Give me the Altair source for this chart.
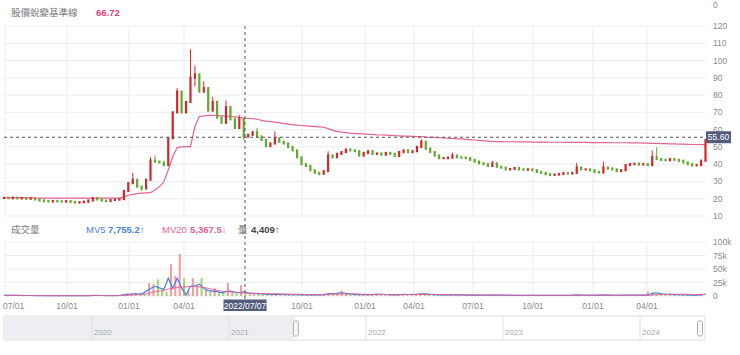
import altair as alt
import pandas as pd

FONT = "Liberation Sans, Noto Sans CJK TC, sans-serif"

# ---------------- data (trading-week index 0..158) ----------------
first_open = 20.4
closes = [
    20.5, 20.3, 20.6, 20.2, 20.4, 20.0, 20.1, 19.6, 19.0, 18.6,
    18.4, 18.7, 18.5, 18.3, 18.6, 18.1, 17.8, 18.0, 18.3, 19.0,
    20.4, 19.6, 18.9, 18.6, 19.3, 19.5, 19.8, 24.5, 29.0, 31.0,
    27.0, 26.0, 31.0, 42.0, 41.5, 41.0, 39.5, 55.0, 70.0, 82.0,
    70.0, 76.0, 90.0, 92.0, 82.0, 84.0, 71.0, 76.0, 67.0, 64.0,
    73.0, 66.0, 61.0, 66.0, 56.0, 57.0, 58.5, 56.0, 54.0, 50.5,
    52.0, 55.0, 53.0, 52.0, 50.0, 48.0, 44.0, 40.0, 39.0, 36.5,
    35.0, 34.5, 36.0, 45.0, 44.0, 46.0, 47.0, 48.5, 48.0, 47.5,
    45.0, 46.5, 47.5, 46.0, 46.2, 45.5, 46.5, 46.0, 44.8, 47.0,
    48.0, 47.0, 47.5, 50.0, 53.0, 49.0, 47.0, 45.0, 43.5, 43.5,
    43.8, 45.0, 44.0, 43.8, 43.5, 42.5, 41.5, 40.5, 40.0, 39.0,
    40.5, 38.5, 38.0, 37.0, 37.2, 37.8, 37.0, 36.8, 37.0, 36.5,
    35.5, 35.0, 34.2, 33.8, 34.0, 34.3, 34.8, 34.6, 35.0, 38.0,
    37.0, 37.0, 36.5, 35.5, 35.2, 38.0, 37.5, 37.0, 36.0, 36.5,
    39.5, 40.0, 40.3, 39.8, 40.0, 39.5, 44.0, 43.0, 42.5, 42.3,
    43.0, 42.5, 42.0, 41.0, 40.0, 39.3, 39.5, 42.0, 54.0,
]
hi_idx = [29, 33, 34, 39, 42, 43, 45, 47, 50, 53, 57, 61, 73, 94, 101, 110, 129, 135, 146, 147]
hi_val = [35.0, 44.0, 45.0, 84.0, 106.5, 97.0, 88.0, 79.0, 77.0, 68.5, 61.0, 59.0, 47.5, 54.5,
          46.7, 42.0, 40.8, 41.4, 48.0, 49.6]
lo_idx = [31, 43, 54, 71, 123]
lo_val = [24.5, 85.0, 54.0, 33.5, 33.0]

baseline = [
    20.6, 20.6, 20.6, 20.6, 20.6, 20.6, 20.6, 20.4, 20.4, 20.4,
    20.4, 20.4, 20.3, 20.3, 20.3, 20.3, 20.3, 20.3, 20.3, 20.4,
    20.4, 20.4, 20.4, 20.4, 20.4, 20.4, 20.4,
    21.1, 22.0, 22.5, 23.0, 23.2, 23.4, 23.5, 25.0, 27.0, 29.8,
    36.8, 44.3, 49.6, 50.0, 50.2, 50.2, 61.8, 67.6, 68.0, 68.2,
    68.2, 68.1, 68.0, 67.9, 67.7, 67.4, 67.1, 66.72, 66.5,
    66.3, 66.0, 65.4, 64.9, 64.6, 64.3, 63.9, 63.6, 63.2, 62.9,
    62.6, 62.4, 62.2, 62.0, 61.8, 61.6, 61.4, 60.6, 59.6, 59.0,
    58.6, 58.3, 58.0, 57.8, 57.6, 57.5, 57.3, 57.2, 57.0, 56.9,
    56.8, 56.7, 56.5, 56.4, 56.3, 56.2, 56.1, 56.0, 55.9, 55.7,
    55.6, 55.5, 55.3, 55.2, 55.0, 54.9, 54.7, 54.6, 54.4, 54.2,
    54.0, 53.8, 53.6, 53.4, 53.2, 53.1, 53.1, 53.0, 53.0, 53.0,
    52.9, 52.9, 52.9, 52.8, 52.8, 52.8, 52.8, 52.7, 52.7, 52.7,
    52.7, 52.6, 52.6, 52.6, 52.6, 52.6, 52.5, 52.5, 52.5, 52.5,
    52.5, 52.4, 52.4, 52.4, 52.4, 52.3, 52.3, 52.3, 52.2, 52.2,
    52.1, 52.0, 51.9, 51.9, 51.8, 51.7, 51.6, 51.6, 51.5, 51.4,
    51.4, 51.3, 51.3,
]

vol_k = [
    1.2, 1.0, 0.9, 1.1, 0.8, 0.9, 1.0, 0.7, 0.8, 0.9,
    0.6, 0.7, 0.8, 0.6, 0.7, 0.9, 0.8, 0.6, 0.7, 1.0,
    1.5, 0.9, 0.8, 0.7, 0.9, 0.8, 1.0,
    5, 3, 6, 4, 3, 24, 22, 31, 12, 8,
    59, 37, 78, 33, 10, 33, 20, 33, 12, 9,
    15, 6, 8, 24, 6, 5, 20, 8,
    4, 3.5, 5, 4, 3, 2.5, 4, 3, 2.5, 2.2,
    2, 2.5, 2.2, 2, 2.5, 2, 2.2, 3, 6, 4,
    5, 10, 4, 3, 2.5, 2.2, 2.5, 3, 2, 4,
    3, 2.5, 2, 2.2, 3, 3.5, 2.5, 3, 4, 5,
    3.5, 2.5, 2, 2.2, 1.8, 2, 2.5, 2, 1.8, 1.5,
    1.6, 1.8, 1.5, 1.4, 1.5, 2.5, 1.5, 1.4, 1.3, 1.2,
    1.4, 1.2, 1.1, 1.3, 1.2, 1.1, 1.0, 1.2, 1.1, 1.0,
    1.2, 1.1, 1.0, 1.2, 3, 1.8, 1.5, 1.3, 1.2, 1.3,
    2.8, 1.8, 1.4, 1.2, 1.5, 2.2, 1.8, 1.6, 1.5, 1.4,
    1.6, 8, 6, 3.5, 3, 2.8, 2.5, 2.2, 2, 1.8,
    1.6, 1.8, 2.5, 4.4,
]
mv5_k = [
    1.0, 1.0, 1.0, 1.0, 0.9, 0.9, 0.9, 0.8, 0.8, 0.8,
    0.8, 0.7, 0.7, 0.7, 0.7, 0.8, 0.8, 0.7, 0.7, 0.8,
    1.0, 1.0, 0.9, 0.8, 0.8, 0.8, 0.9,
    2.5, 3, 4, 4, 3.5, 9, 14, 18, 15, 12,
    33, 14, 33, 15, 2, 18, 19, 22, 14, 10,
    9, 8, 6, 8, 9, 7, 6, 7.8,
    6, 5, 4.5, 4, 3.5, 3, 3.2, 3, 2.8, 2.5,
    2.3, 2.3, 2.2, 2.1, 2.2, 2.1, 2.1, 2.5, 4, 4.5,
    5, 6, 5, 3.5, 3, 2.6, 2.5, 2.7, 2.5, 3,
    3, 2.8, 2.4, 2.2, 2.6, 3, 2.8, 2.8, 3.2, 4,
    3.8, 3, 2.5, 2.2, 2, 2, 2.2, 2.1, 1.9, 1.7,
    1.6, 1.7, 1.6, 1.5, 1.5, 1.8, 1.6, 1.5, 1.4, 1.3,
    1.3, 1.3, 1.2, 1.2, 1.2, 1.1, 1.1, 1.1, 1.1, 1.1,
    1.1, 1.0, 1.1, 1.3, 2, 1.8, 1.5, 1.4, 1.3, 1.3,
    2, 1.8, 1.5, 1.4, 1.4, 1.8, 1.8, 1.6, 1.5, 1.5,
    1.5, 5, 6, 4, 3.2, 2.9, 2.6, 2.3, 2.1, 1.9,
    1.8, 1.8, 2.2, 3.5,
]
mv20_k = [
    1.0, 1.0, 1.0, 1.0, 1.0, 0.9, 0.9, 0.9, 0.9, 0.9,
    0.8, 0.8, 0.8, 0.8, 0.8, 0.8, 0.8, 0.8, 0.8, 0.8,
    0.9, 0.9, 0.9, 0.9, 0.9, 0.9, 0.9,
    1.3, 1.6, 2, 2.3, 2.6, 4, 6, 8, 9, 10,
    13, 14, 16, 17, 17, 18, 18, 17, 16, 14,
    12, 10.5, 9, 8.5, 7.5, 6.8, 6, 5.4,
    5.2, 5, 4.8, 4.6, 4.4, 4.2, 4, 3.8, 3.6, 3.4,
    3.2, 3, 2.9, 2.8, 2.7, 2.6, 2.5, 2.6, 3, 3.3,
    3.6, 4, 4.1, 4, 3.8, 3.5, 3.2, 3, 2.9, 2.9,
    2.8, 2.8, 2.7, 2.7, 2.7, 2.8, 2.8, 2.9, 3, 3.1,
    3.1, 3, 2.9, 2.8, 2.6, 2.5, 2.4, 2.3, 2.2, 2.1,
    2, 1.9, 1.8, 1.8, 1.7, 1.7, 1.6, 1.6, 1.5, 1.5,
    1.4, 1.4, 1.3, 1.3, 1.3, 1.2, 1.2, 1.2, 1.2, 1.2,
    1.2, 1.2, 1.3, 1.3, 1.4, 1.4, 1.5, 1.5, 1.5, 1.5,
    1.6, 1.6, 1.6, 1.6, 1.6, 1.6, 1.6, 1.6, 1.6, 1.6,
    1.6, 2.2, 2.6, 2.8, 2.9, 3, 3, 3, 3, 2.9,
    2.8, 2.7, 2.7, 2.8,
]

price_ticks = [10, 20, 30, 40, 50, 60, 70, 80, 90, 100, 110, 120]
vol_ticks = [0, 25, 50, 75, 100]
vol_tick_labels = ["0", "25k", "50k", "75k", "100k"]
quarter_idx = [0.23, 14.19, 28.15, 40.54, 53.6, 67.12, 81.31, 92.34, 105.63, 119.14, 132.66, 144.82]
quarter_lab = ["07/01", "10/01", "01/01", "04/01", "07/01", "10/01",
               "01/01", "04/01", "07/01", "10/01", "01/01", "04/01"]
hidden_quarter = 4          # 07/01 label covered by the crosshair date box
nav_years = [2020, 2021, 2022, 2023, 2024]
nav_domain = [2019.358, 2024.474]
nav_sel = [2021.482, 2024.474]
cross_idx = 54.28
cross_date = "2022/07/07"
cross_price = 55.6

N = len(closes)
assert all(len(a) == N for a in [baseline, vol_k, mv5_k, mv20_k])

RED, GREEN = "#d3272b", "#62a82f"
VRED, VGREEN = "#f08a8a", "#86cf5e"
opens = [first_open] + closes[:-1]
highs = [max(o, c) for o, c in zip(opens, closes)]
lows = [min(o, c) for o, c in zip(opens, closes)]
for k, v in zip(hi_idx, hi_val):
    highs[k] = max(highs[k], v)
for k, v in zip(lo_idx, lo_val):
    lows[k] = min(lows[k], v)
up = [c >= o for o, c in zip(opens, closes)]

df = pd.DataFrame({
    "i": list(range(N)), "open": opens, "close": closes, "high": highs, "low": lows,
    "col": [RED if u else GREEN for u in up],
    "vcol": [VRED if u else VGREEN for u in up],
    "base": baseline, "vol": vol_k, "mv5": mv5_k, "mv20": mv20_k,
})

xs = alt.Scale(domain=[0, N - 1], range=[4, 705.5], nice=False, zero=False)
ps = alt.Scale(domain=[10, 120], range=[216, 26], nice=False, zero=False)
vs = alt.Scale(domain=[0, 100], range=[296, 242], nice=False)
ns = alt.Scale(domain=nav_domain, range=[4, 705], nice=False, zero=False)


def X(f="i"):
    return alt.X(f"{f}:Q", scale=xs, axis=None)


def YP(f):
    return alt.Y(f"{f}:Q", scale=ps, axis=None)


def YV(f):
    return alt.Y(f"{f}:Q", scale=vs, axis=None)


def NX(f):
    return alt.X(f"{f}:Q", scale=ns, axis=None)


def label(txt, x, y, color, size=9.5, bold=False, align="left"):
    return alt.Chart(pd.DataFrame({"t": [txt]})).mark_text(
        align=align, baseline="middle", fontSize=size, font=FONT,
        fontWeight="bold" if bold else "normal", color=color
    ).encode(x=alt.value(x), y=alt.value(y), text="t:N")


GRID = "#ececec"
pt = pd.DataFrame({"v": price_ticks, "lab": [str(v) for v in price_ticks]})
vt = pd.DataFrame({"v": vol_ticks, "lab": vol_tick_labels})
qt = pd.DataFrame({"q": quarter_idx, "lab": quarter_lab})
qt_lab = qt.drop(index=[0, hidden_quarter])
cr = pd.DataFrame({"c": [cross_idx], "p": [cross_price], "d": [cross_date],
                   "pl": [f"{cross_price:.2f}"]})

layers = []
# grids
layers.append(alt.Chart(pt).mark_rule(color=GRID, strokeWidth=1).encode(
    y=YP("v"), x=alt.value(4), x2=alt.value(705.5)))
layers.append(alt.Chart(vt).mark_rule(color=GRID, strokeWidth=1).encode(
    y=YV("v"), x=alt.value(4), x2=alt.value(705.5)))
layers.append(alt.Chart(qt).mark_rule(color=GRID, strokeWidth=1).encode(
    x=X("q"), y=alt.value(26), y2=alt.value(216)))
layers.append(alt.Chart(qt).mark_rule(color=GRID, strokeWidth=1).encode(
    x=X("q"), y=alt.value(242), y2=alt.value(296)))

# baseline line
layers.append(alt.Chart(df).mark_line(color="#e3648f", strokeWidth=1.2).encode(
    x=X(), y=YP("base")))
# candles
layers.append(alt.Chart(df).mark_rule(strokeWidth=1).encode(
    x=X(), y=YP("low"), y2=alt.Y2("high"), color=alt.Color("col:N", scale=None)))
layers.append(alt.Chart(df).mark_rule(strokeWidth=2.2, strokeCap="square").encode(
    x=X(), y=YP("open"), y2=alt.Y2("close"), color=alt.Color("col:N", scale=None)))

# volume
layers.append(alt.Chart(df).mark_bar(width=2, opacity=0.85).encode(
    x=X(), y=YV("vol"), color=alt.Color("vcol:N", scale=None)))
layers.append(alt.Chart(df).mark_line(color="#4b80de", strokeWidth=1.2).encode(
    x=X(), y=YV("mv5")))
layers.append(alt.Chart(df).mark_line(color="#e3609a", strokeWidth=1.2, opacity=0.8).encode(
    x=X(), y=YV("mv20")))

# axis labels
layers.append(alt.Chart(pt).mark_text(align="left", baseline="middle", fontSize=8.5, font=FONT,
                                      color="#8a8a8a").encode(
    x=alt.value(713), y=YP("v"), text="lab:N"))
layers.append(alt.Chart(vt).mark_text(align="left", baseline="middle", fontSize=8.5, font=FONT,
                                      color="#8a8a8a").encode(
    x=alt.value(713), y=YV("v"), text="lab:N"))
layers.append(alt.Chart(qt_lab).mark_text(align="center", baseline="middle", fontSize=8.5,
                                          font=FONT, color="#8a8a8a").encode(
    x=X("q"), y=alt.value(306), text="lab:N"))
layers.append(alt.Chart(qt.iloc[:1]).mark_text(align="left", baseline="middle", fontSize=8.5,
                                               font=FONT, color="#8a8a8a", dx=-2).encode(
    x=X("q"), y=alt.value(306), text="lab:N"))
layers.append(label("0", 713, 5, "#8a8a8a", size=8.5))

# crosshair
layers.append(alt.Chart(cr).mark_rule(color="#555555", strokeDash=[3, 3], strokeWidth=1).encode(
    x=X("c"), y=alt.value(26), y2=alt.value(299)))
layers.append(alt.Chart(cr).mark_rule(color="#555555", strokeDash=[3, 3], strokeWidth=1).encode(
    y=YP("p"), x=alt.value(4), x2=alt.value(705.5)))
layers.append(alt.Chart(cr).mark_rule(color="#525c7c", strokeWidth=12).encode(
    y=YP("p"), x=alt.value(706), x2=alt.value(731)))
layers.append(alt.Chart(cr).mark_text(align="center", baseline="middle", fontSize=8.5, font=FONT,
                                      color="white").encode(
    y=YP("p"), x=alt.value(718.5), text="pl:N"))
layers.append(alt.Chart(cr).mark_rule(color="#525c7c", strokeWidth=43).encode(
    x=X("c"), y=alt.value(299.5), y2=alt.value(311)))
layers.append(alt.Chart(cr).mark_text(align="center", baseline="middle", fontSize=8.5, font=FONT,
                                      color="white").encode(
    x=X("c"), y=alt.value(305.5), text="d:N"))

# titles
layers.append(label("股價蛻變基準線", 11, 13, "#7a7a7a"))
layers.append(label("66.72", 96, 13, "#d9447e", bold=True))
layers.append(label("成交量", 11, 230, "#7a7a7a"))
layers.append(label("MV5", 86, 230, "#4b80de"))
layers.append(label("7,755.2↑", 108, 230, "#4b80de", bold=True))
layers.append(label("MV20", 162, 230, "#e3609a"))
layers.append(label("5,367.5↓", 190, 230, "#e3609a", bold=True))
layers.append(label("量", 238, 230, "#666666"))
layers.append(label("4,409↑", 251, 230, "#444444", bold=True))

# navigator
nav_all = pd.DataFrame({"a": [nav_domain[0]], "b": [nav_domain[1]]})
nav_off = pd.DataFrame({"a": [nav_domain[0]], "b": [nav_sel[0]]})
nav_y = pd.DataFrame({"y": nav_years, "lab": [str(y) for y in nav_years]})
nav_h = pd.DataFrame({"h": nav_sel})
layers.append(alt.Chart(nav_all).mark_rect(fill="white", stroke="#dcdcdc", strokeWidth=1).encode(
    x=NX("a"), x2=alt.X2("b"), y=alt.value(316), y2=alt.value(340)))
layers.append(alt.Chart(nav_off).mark_rect(fill="#eceef1").encode(
    x=NX("a"), x2=alt.X2("b"), y=alt.value(316), y2=alt.value(340)))
layers.append(alt.Chart(nav_y).mark_rule(color="#e0e0e0", strokeWidth=1).encode(
    x=NX("y"), y=alt.value(316), y2=alt.value(340)))
layers.append(alt.Chart(nav_y).mark_text(align="left", baseline="middle", fontSize=8, font=FONT,
                                         color="#a8a8a8", dx=2).encode(
    x=NX("y"), y=alt.value(333), text="lab:N"))
layers.append(alt.Chart(nav_h).mark_bar(width=5, cornerRadius=1.5, fill="#f6f6f6", stroke="#9a9a9a",
                                        strokeWidth=0.8).encode(
    x=NX("h"), y=alt.value(321), y2=alt.value(336)))

chart = alt.layer(*layers).resolve_scale(x="independent", y="independent").properties(
    width=740, height=355, autosize=alt.AutoSizeParams(type="none"), padding=0,
    background="white",
).configure_view(stroke=None)

chart.save("out.html", embed_options={"renderer": "svg", "actions": False})
